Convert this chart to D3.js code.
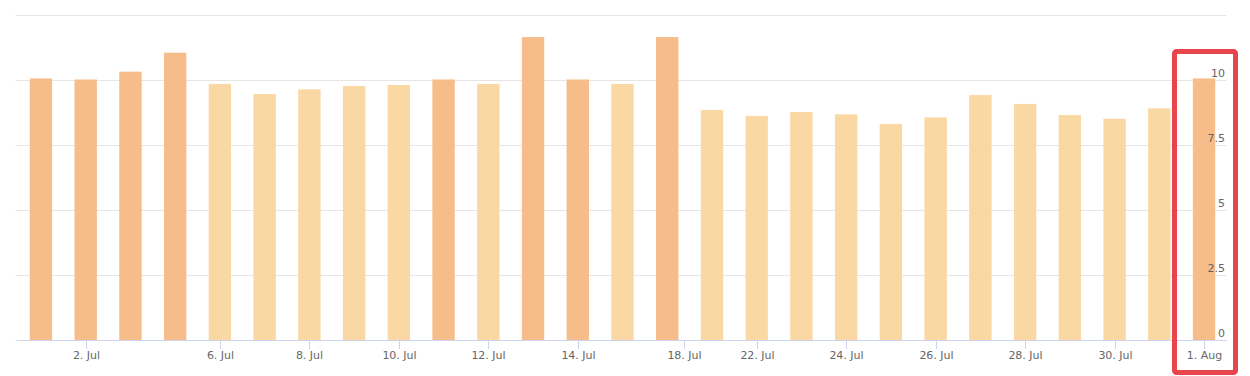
<!DOCTYPE html>
<html>
<head>
<meta charset="utf-8">
<script src="https://cdn.jsdelivr.net/npm/d3@7"></script>
<style>
  html, body { margin: 0; padding: 0; background: #ffffff; }
  svg { display: block; }
  text { font-family: "Lucida Grande", "DejaVu Sans", "Open Sans", sans-serif; }
</style>
</head>
<body>
<svg id="chart" width="1250" height="376"></svg>
<script>
// ---- data ----
const categories = ["1. Jul","2. Jul","3. Jul","5. Jul","6. Jul","7. Jul","8. Jul","9. Jul","10. Jul",
  "11. Jul","12. Jul","13. Jul","14. Jul","15. Jul","17. Jul","20. Jul","22. Jul","23. Jul","24. Jul",
  "25. Jul","26. Jul","27. Jul","28. Jul","29. Jul","30. Jul","31. Jul","1. Aug"];
const values = [10.06, 10.02, 10.32, 11.05, 9.85, 9.46, 9.64, 9.77, 9.81,
  10.02, 9.85, 11.65, 10.02, 9.85, 11.65, 8.85, 8.62, 8.77, 8.68,
  8.31, 8.56, 9.42, 9.08, 8.65, 8.51, 8.91, 10.06];
const tickLabels = ["2. Jul","6. Jul","8. Jul","10. Jul","12. Jul","14. Jul","18. Jul","22. Jul",
  "24. Jul","26. Jul","28. Jul","30. Jul","1. Aug"];
const tickIndex = [1, 4, 6, 8, 10, 12, 14.38, 16, 18, 20, 22, 24, 26];
const yTicks = [0, 2.5, 5, 7.5, 10, 12.5];
const yTickLabels = ["0", "2.5", "5", "7.5", "10", ""];

// ---- layout ----
const svg = d3.select("#chart");
const plotLeft = 18.6, plotRight = 1226.4, plotTop = 15, plotBottom = 340;

const x = d3.scaleBand().domain(categories).range([plotLeft, plotRight])
  .paddingInner(0.5).paddingOuter(0.25);
const xIdx = d3.scaleLinear().domain([0, categories.length - 1])
  .range([x(categories[0]) + x.bandwidth() / 2, x(categories[categories.length - 1]) + x.bandwidth() / 2]);
const y = d3.scaleLinear().domain([0, 12.5]).range([plotBottom, plotTop]);

const darkColor = "#f6bc89";
const lightColor = "#fad8a3";

// gridlines
svg.append("g").selectAll("line").data(yTicks).join("line")
  .attr("x1", plotLeft - 3).attr("x2", plotRight)
  .attr("y1", d => Math.round(y(d)) + 0.5).attr("y2", d => Math.round(y(d)) + 0.5)
  .attr("stroke", "#e6e6e6").attr("stroke-width", 1);

// bars
svg.append("g").selectAll("rect").data(values).join("rect")
  .attr("x", (d, i) => x(categories[i]))
  .attr("width", x.bandwidth())
  .attr("y", d => y(d))
  .attr("height", d => y(0) - y(d))
  .attr("fill", d => d >= 10 ? darkColor : lightColor);

// x axis line
svg.append("line")
  .attr("x1", plotLeft).attr("x2", plotRight)
  .attr("y1", plotBottom + 0.5).attr("y2", plotBottom + 0.5)
  .attr("stroke", "#ccd6eb").attr("stroke-width", 1);

// x ticks
const xt = svg.append("g").selectAll("g").data(tickLabels).join("g")
  .attr("transform", (d, i) => `translate(${Math.round(xIdx(tickIndex[i])) + 0.5},0)`);
xt.append("line").attr("y1", plotBottom).attr("y2", plotBottom + 9)
  .attr("stroke", "#ccd6eb").attr("stroke-width", 1);
xt.append("text").attr("y", plotBottom + 19).attr("text-anchor", "middle")
  .attr("font-size", "11px").attr("fill", "#666666").text(d => d);

// y labels on right
svg.append("g").selectAll("text").data(yTicks).join("text")
  .attr("x", 1225).attr("y", d => y(d) - 3)
  .attr("text-anchor", "end").attr("font-size", "11px").attr("fill", "#666666")
  .text((d, i) => yTickLabels[i]);

// highlight box
svg.append("rect")
  .attr("x", 1174.5).attr("y", 51.5).attr("width", 61).attr("height", 321)
  .attr("rx", 2)
  .attr("fill", "none").attr("stroke", "#e8444b").attr("stroke-width", 5);
</script>
</body>
</html>
